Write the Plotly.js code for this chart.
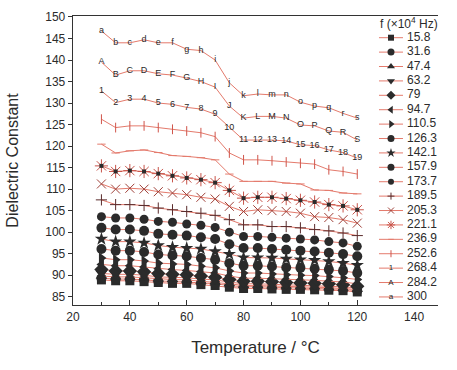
<!DOCTYPE html>
<html><head><meta charset="utf-8">
<script src="https://cdn.plot.ly/plotly-3.0.1.min.js"></script>
<style>html,body{margin:0;padding:0;background:#fff}#chart{width:457px;height:370px}</style>
</head><body><div id="chart"></div>
<script>
// ---- data ----
const temperatures = [30,35,40,45,50,55,60,65,70,75,80,85,90,95,100,105,110,115,120];
const frequencies = ['15.8','31.6','47.4','63.2','79','94.7','110.5','126.3','142.1','157.9','173.7','189.5','205.3','221.1','236.9','252.6','268.4','284.2','300'];

const f15_8  = [88.9,88.7,88.7,88.5,88.3,88.1,88.1,87.8,87.6,87.2,86.9,86.9,86.8,86.7,86.7,86.6,86.5,86.4,86.1];
const f31_6  = [89.3,89.1,89.1,88.9,88.6,88.5,88.4,88.2,88.0,87.6,87.3,87.3,87.2,87.1,87.0,87.0,86.8,86.7,86.4];
const f47_4  = [89.8,89.6,89.6,89.4,89.1,89.0,88.9,88.6,88.4,88.0,87.6,87.6,87.5,87.4,87.3,87.3,87.1,86.9,86.7];
const f63_2  = [90.4,90.2,90.2,90.0,89.6,89.5,89.4,89.1,88.9,88.4,88.0,88.0,87.9,87.8,87.7,87.6,87.5,87.3,87.0];
const f79    = [91.3,91.0,91.0,90.8,90.4,90.2,90.1,89.8,89.5,89.0,88.6,88.6,88.5,88.3,88.2,88.1,88.0,87.8,87.4];
const f94_7  = [92.5,92.2,92.2,91.9,91.5,91.3,91.1,90.8,90.5,89.8,89.3,89.3,89.2,89.0,88.9,88.8,88.6,88.4,88.0];
const f110_5 = [94.0,93.6,93.6,93.3,92.8,92.6,92.5,92.1,91.7,91.0,90.5,90.5,90.3,90.1,90.0,89.9,89.7,89.4,89.0];
const f126_3 = [96.1,95.7,95.7,95.4,94.8,94.6,94.4,94.0,93.6,92.8,92.2,92.2,92.0,91.8,91.7,91.5,91.3,91.0,90.5];
const f142_1 = [98.4,97.8,97.8,97.5,96.9,96.5,96.3,96.1,95.5,94.9,94.1,94.1,94.0,93.8,93.6,93.5,93.2,92.8,92.3];
const f157_9 = [101.0,100.6,100.6,100.3,99.6,99.4,99.2,98.8,98.4,97.2,96.3,96.3,96.1,95.9,95.7,95.5,95.2,94.9,94.4];
const f173_7 = [103.6,103.3,103.3,103.0,102.5,102.3,101.9,101.6,101.1,100.0,99.0,99.0,98.8,98.6,98.4,98.2,97.8,97.5,96.7];
const f189_5 = [107.5,106.4,106.4,106.2,105.6,105.2,104.8,104.4,103.9,102.9,101.7,101.7,101.3,101.3,101.0,100.6,100.3,99.8,99.2];
const f205_3 = [111.2,110.0,110.2,110.0,109.4,109.1,108.7,108.1,107.7,106.0,104.8,105.2,105.0,104.8,104.4,103.6,103.4,102.9,102.1];
const f221_1 = [115.4,114.1,114.3,114.1,113.6,113.1,112.6,112.2,111.5,109.7,107.9,108.1,108.1,107.8,107.4,107.0,106.4,106.1,105.2];
const f236_9 = [120.45,118.4,118.9,119.1,118.5,117.8,117.6,117.3,116.8,113.5,111.8,111.8,111.8,111.4,111.2,109.8,109.7,109.1,108.9];
const f252_6 = [126.25,124.3,124.7,124.7,124.3,123.9,123.5,123.1,122.2,118.4,116.8,116.8,116.6,116.3,116.0,115.8,114.5,114.1,113.5];
const f268_4 = [132.8,130.1,130.9,130.9,130.0,129.7,129.0,128.6,127.4,124.3,121.4,121.4,121.4,121.2,120.3,120.1,119.1,118.5,117.2];
const f284_2 = [139.5,136.5,137.5,137.5,136.8,136.5,135.8,135.0,133.7,129.3,126.5,126.9,126.9,126.5,124.9,124.7,123.5,123.2,121.4];
const f300   = [146.75,144.0,144.0,144.7,144.0,144.0,142.5,142.2,140.0,134.7,131.7,132.1,131.9,131.9,130.2,129.3,128.9,127.6,126.5];

const lowerLetters = ['a','b','c','d','e','f','g','h','i','j','k','l','m','n','o','p','q','r','s'];
const upperLetters = ['A','B','C','D','E','F','G','H','I','J','K','L','M','N','O','P','Q','R','S'];
const numberLabels = ['1','2','3','4','5','6','7','8','9','10','11','12','13','14','15','16','17','18','19'];
const xTicks = [20,40,60,80,100,120,140];
const yTicks = [85,90,95,100,105,110,115,120,125,130,135,140,145,150];

// ---- styling ----
const series = [f15_8,f31_6,f47_4,f63_2,f79,f94_7,f110_5,f126_3,f142_1,f157_9,f173_7,f189_5,f205_3,f221_1,f236_9,f252_6,f268_4,f284_2,f300];
const LINE = '#e47a6c';
const DARK = '#2b2b2b';
const FONT = 'Liberation Sans, Arial, sans-serif';
const styles = [
  {symbol:'square', size:9},
  {symbol:'circle', size:10},
  {symbol:'triangle-up', size:10},
  {symbol:'triangle-down', size:10},
  {symbol:'diamond', size:11},
  {symbol:'triangle-left', size:10},
  {symbol:'triangle-right', size:10},
  {symbol:'circle', size:10},
  {symbol:'star', size:10},
  {symbol:'circle', size:10},
  {symbol:'circle', size:9},
  {symbol:'cross-thin-open', size:8, color:'#5a2b2b', open:true},
  {symbol:'x-thin-open', size:9, color:'#a0423a', open:true},
  {symbol:'asterisk-open', size:11, color:'#c8544a', open:true, center:true},
  {symbol:'line-ew-open', size:6, color:LINE, open:true},
  {symbol:'line-ns-open', size:7, color:'#d0544a', open:true},
  {text:numberLabels},
  {text:upperLetters},
  {text:lowerLetters}
];

const traces = [];
series.forEach((vals, i) => {
  const s = styles[i];
  if (s.text) {
    traces.push({x:temperatures, y:vals, type:'scatter', mode:'lines+text', text:s.text,
      textposition:'middle center', textfont:{size:9, color:DARK, family:FONT},
      line:{color:LINE, width:1}, cliponaxis:false});
  } else {
    const c = s.color || DARK;
    traces.push({x:temperatures, y:vals, type:'scatter', mode:'lines+markers',
      line:{color:LINE, width:1},
      marker:{symbol:s.symbol, size:s.size, color:c, line:{color:c, width:s.open?1:0}},
      cliponaxis:false});
    if (s.center) {
      traces.push({x:temperatures, y:vals, type:'scatter', mode:'markers',
        marker:{symbol:'square', size:4, color:DARK}, cliponaxis:false});
    }
  }
});

// custom legend (compact spacing) drawn in an overlay subplot, one row per frequency
frequencies.forEach((f, k) => {
  const s = styles[k];
  traces.push({x:[6,30], y:[k,k], xaxis:'x2', yaxis:'y2', type:'scatter', mode:'lines',
    line:{color:LINE, width:1}, cliponaxis:false});
  if (s.text) {
    traces.push({x:[18], y:[k], xaxis:'x2', yaxis:'y2', type:'scatter', mode:'text',
      text:[s.text[0]], textposition:'middle center', textfont:{size:8, color:DARK, family:FONT},
      cliponaxis:false});
  } else {
    const c = s.color || DARK;
    traces.push({x:[18], y:[k], xaxis:'x2', yaxis:'y2', type:'scatter', mode:'markers',
      marker:{symbol:s.symbol, size:Math.round(s.size*0.65), color:c,
        line:{color:c, width:s.open?1:0}}, cliponaxis:false});
  }
});
traces.push({x:frequencies.map(() => 34), y:frequencies.map((f,k) => k), xaxis:'x2', yaxis:'y2',
  type:'scatter', mode:'text', text:frequencies, textposition:'middle right',
  textfont:{size:12, color:DARK, family:FONT}, cliponaxis:false});

const layout = {
  width:457, height:370,
  margin:{l:73, r:19, t:16, b:65},
  paper_bgcolor:'#fff', plot_bgcolor:'#fff',
  showlegend:false,
  font:{family:FONT, color:DARK, size:12},
  xaxis:{range:[20,148.4], tickvals:xTicks, ticks:'inside', ticklen:5, tickwidth:1, tickcolor:'#333',
    minor:{dtick:10, tick0:0, ticks:'inside', ticklen:3, tickcolor:'#333'},
    showline:true, linecolor:'#333', linewidth:1.3, mirror:true, showgrid:false, zeroline:false,
    tickfont:{size:12, family:FONT, color:DARK},
    title:{text:'Temperature / °C', font:{size:17, family:FONT, color:DARK}, standoff:18}},
  yaxis:{range:[83.07,150.23], tickvals:yTicks, ticks:'outside', ticklen:4, tickwidth:1, tickcolor:'#333',
    showline:true, linecolor:'#333', linewidth:1.3, showgrid:false, zeroline:false,
    tickfont:{size:12, family:FONT, color:DARK},
    title:{text:'Dielectric Constant', font:{size:16, family:FONT, color:DARK}, standoff:22}},
  xaxis2:{domain:[0.8219,1], range:[0,65], anchor:'y2', visible:false, fixedrange:true},
  yaxis2:{domain:[0,1], range:[18.56,-1.507], anchor:'x2', visible:false, fixedrange:true},
  annotations:[{xref:'x2', yref:'y2', x:5, y:-1.0, xanchor:'left', yanchor:'middle', showarrow:false,
    text:'f (×10<sup>4</sup> Hz)', font:{size:12, family:FONT, color:DARK}}]
};

Plotly.newPlot('chart', traces, layout, {staticPlot:true, displayModeBar:false});
</script>
</body></html>
